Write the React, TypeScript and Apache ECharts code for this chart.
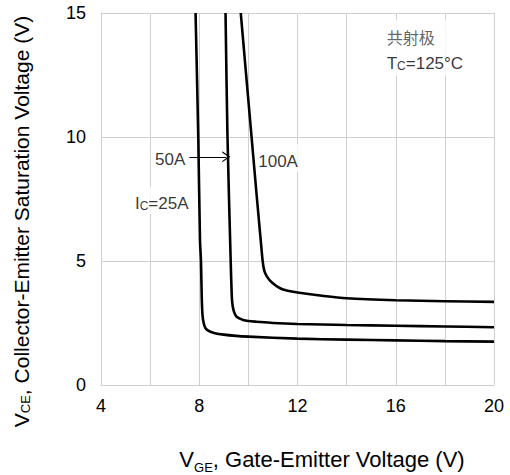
import React, { useEffect, useRef } from 'react';
import * as echarts from 'echarts';

// V_GE (x) / V_CE (y) samples of each collector-current curve
const vge25 = [7.85, 7.96, 8.03, 8.07, 8.1, 8.13, 8.18, 8.25, 8.4, 8.6, 9.0, 9.5, 10.0, 12.0, 14.0, 16.0, 18.0, 20.0];
const vce25 = [15, 10, 5.85, 5.0, 3.6, 2.85, 2.5, 2.3, 2.17, 2.1, 2.03, 1.98, 1.95, 1.87, 1.83, 1.8, 1.77, 1.75];

const vge50 = [9.07, 9.15, 9.28, 9.31, 9.34, 9.4, 9.52, 9.79, 10.0, 10.34, 11.0, 12.0, 14.0, 16.0, 18.0, 20.0];
const vce50 = [15, 10, 5.0, 4.0, 3.35, 3.0, 2.75, 2.62, 2.58, 2.55, 2.5, 2.46, 2.42, 2.39, 2.36, 2.33];

const vge100 = [9.69, 10.13, 10.57, 10.65, 10.77, 10.97, 11.29, 11.6, 12.0, 13.0, 14.0, 16.0, 18.0, 20.0];
const vce100 = [15, 10, 5.1, 4.6, 4.35, 4.12, 3.9, 3.8, 3.73, 3.6, 3.5, 3.42, 3.38, 3.35];

// axis ranges and tick steps
const xMin = 4;
const xMax = 20;
const xStep = 2;
const xLabelStep = 4;
const yMin = 0;
const yMax = 15;
const yStep = 5;

// curve annotations: [V_GE, V_CE, text]
const curveLabels: [number, number, string][] = [
  [6.12, 9.24, '{t|50A}'],
  [10.32, 9.15, '{t|100A}'],
  [5.3, 7.45, '{t|I}{s|C}{t|=25A}'],
];
const conditionLabel: [number, number, string] = [15.55, 13.6, '{cn|共射极}\n{t|T}{s|C}{t|=125°C}'];
// arrow from the "50A" text to its curve
const arrowFrom: [number, number] = [7.6, 9.2];
const arrowTo: [number, number] = [9.1, 9.2];

const FONT = "'Liberation Sans', Arial, 'Noto Sans CJK SC', sans-serif";
const GRID_COLOR = '#cfcfcf';

const zip = (xs: number[], ys: number[]) => xs.map((x, i) => [x, ys[i]]);

const labelRich = {
  t: { fontSize: 17, fontFamily: FONT, color: '#000', verticalAlign: 'bottom', lineHeight: 24 },
  s: { fontSize: 12, fontFamily: FONT, color: '#000', verticalAlign: 'bottom', lineHeight: 24 },
  cn: {
    fontSize: 16,
    fontFamily: "'Noto Sans CJK SC', sans-serif",
    color: '#3a3a3a',
    verticalAlign: 'bottom',
    lineHeight: 24,
    padding: [0, 0, 3, 0],
  },
};

const curveStyle = { color: '#000', width: 2.6 };

export default function App() {
  const ref = useRef<HTMLDivElement>(null);

  useEffect(() => {
    if (!ref.current) return;
    const chart = echarts.init(ref.current, undefined, { renderer: 'svg' });

    const mkCurve = (name: string, xs: number[], ys: number[]) => ({
      name,
      type: 'line',
      data: zip(xs, ys),
      smooth: 0.3,
      showSymbol: false,
      symbol: 'none',
      lineStyle: curveStyle,
      z: 3,
    });

    const curve50: any = mkCurve('50A', vge50, vce50);
    curve50.markLine = {
      silent: true,
      animation: false,
      symbol: ['none', 'path://M5,0 L10,8 L8.7,8 L5,1.9 L1.3,8 L0,8 Z'],
      symbolSize: [11, 8],
      lineStyle: { color: '#000', width: 1.2, type: 'solid' },
      label: { show: false },
      data: [[{ coord: arrowFrom }, { coord: arrowTo }]],
    };

    chart.setOption({
      animation: false,
      grid: { left: 101, right: 16, top: 13, bottom: 90, outerBoundsMode: 'none' },
      xAxis: {
        type: 'value',
        min: xMin,
        max: xMax,
        interval: xStep,
        axisLine: { show: true, lineStyle: { color: GRID_COLOR, width: 1 } },
        axisTick: { show: false },
        splitLine: { show: true, lineStyle: { color: GRID_COLOR, width: 1 } },
        axisLabel: {
          fontSize: 18,
          fontFamily: FONT,
          color: '#000',
          margin: 12,
          formatter: (v: number) => ((v - xMin) % xLabelStep === 0 ? String(v) : ''),
        },
        name: '{v|V}{sub|GE}{b|, Gate-Emitter Voltage (V)}',
        nameLocation: 'middle',
        nameGap: 63,
        nameTextStyle: {
          rich: {
            v: { fontSize: 22, fontFamily: FONT, color: '#000', verticalAlign: 'bottom', padding: [0, 0, 4, 49] },
            b: { fontSize: 22, fontFamily: FONT, color: '#000', verticalAlign: 'bottom', padding: [0, 0, 4, 0] },
            sub: { fontSize: 13, fontFamily: FONT, color: '#000', verticalAlign: 'bottom' },
          },
        },
      },
      yAxis: {
        type: 'value',
        min: yMin,
        max: yMax,
        interval: yStep,
        axisLine: { show: true, lineStyle: { color: GRID_COLOR, width: 1 } },
        axisTick: { show: false },
        splitLine: { show: true, lineStyle: { color: GRID_COLOR, width: 1 } },
        axisLabel: { fontSize: 18, fontFamily: FONT, color: '#000', margin: 15 },
        name: '{b|V}{sub|CE}{e|, Collector-Emitter Saturation Voltage (V)}',
        nameLocation: 'middle',
        nameGap: 69,
        nameTextStyle: {
          rich: {
            b: { fontSize: 21, fontFamily: FONT, color: '#000', verticalAlign: 'bottom' },
            e: { fontSize: 21, fontFamily: FONT, color: '#000', verticalAlign: 'bottom', padding: [0, 45, 0, 0] },
            sub: { fontSize: 13, fontFamily: FONT, color: '#000', verticalAlign: 'bottom' },
          },
        },
      },
      series: [
        mkCurve('25A', vge25, vce25),
        curve50,
        mkCurve('100A', vge100, vce100),
        {
          name: 'labels',
          type: 'scatter',
          symbolSize: 0,
          silent: true,
          z: 5,
          data: [...curveLabels, conditionLabel].map(([x, y, text], i) => ({
            value: [x, y],
            label: {
              show: true,
              position: 'right',
              distance: 0,
              formatter: text,
              backgroundColor: '#fff',
              padding: i === curveLabels.length ? [4, 6, 4, 2] : [2, 2, 2, 2],
              rich: labelRich,
            },
          })),
        },
      ],
    });

    return () => chart.dispose();
  }, []);

  return (
    <div
      ref={ref}
      style={{ position: 'absolute', left: 0, top: 0, width: 510, height: 475, background: '#fff' }}
    />
  );
}
